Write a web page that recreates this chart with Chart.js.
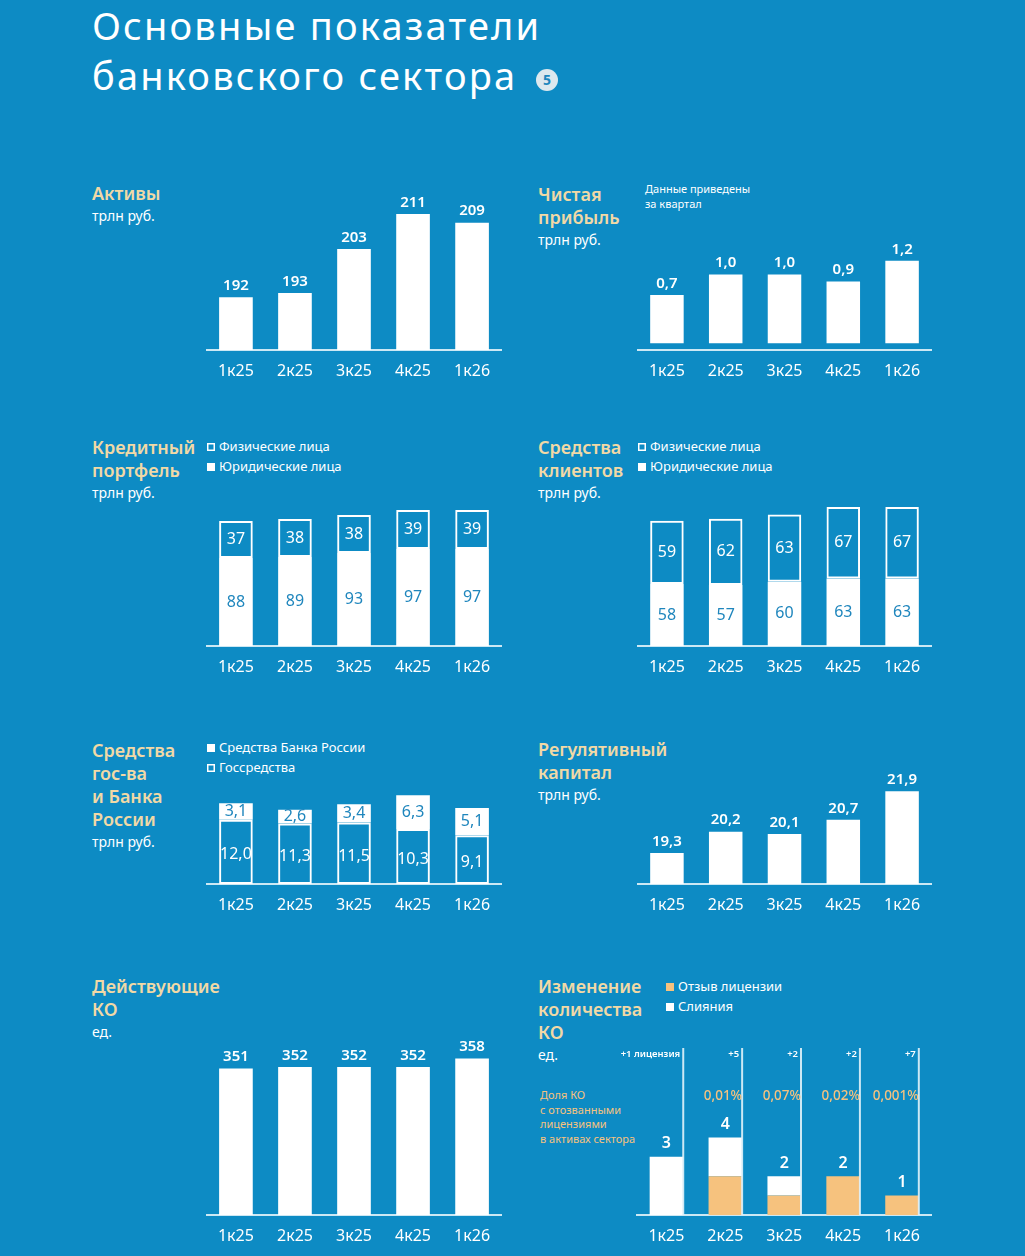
<!DOCTYPE html>
<html lang="ru">
<head>
<meta charset="utf-8">
<title>Основные показатели банковского сектора</title>
<script src="https://cdn.jsdelivr.net/npm/chart.js@4.4.1/dist/chart.umd.min.js"></script>
<style>
  body { margin: 0; width: 1025px; height: 1256px; overflow: hidden; background: #0d8bc4; font-family: "Noto Sans", sans-serif; color: #fff; position: relative; }
  .abs { position: absolute; }
  .main { left: 92px; top: 0; font-size: 38px; line-height: 50px; letter-spacing: 2.2px; }
  .badge { left: 536px; top: 69px; width: 22px; height: 22px; border-radius: 50%; background: #dde8ee; color: #1d86bd; font-size: 14px; font-weight: 700; line-height: 22px; text-align: center; }
  .ttl { font-size: 18px; line-height: 23px; font-weight: 600; color: #f1d9a6; white-space: nowrap; }
  .ttl .sub { display: block; font-size: 14px; line-height: 22px; font-weight: 400; color: #fff; }
  .leg { font-size: 13px; line-height: 19.5px; white-space: nowrap; }
  .sq { display: inline-block; width: 8px; height: 8px; margin-right: 4px; background: #fff; vertical-align: 0; }
  .sq.hollow { background: transparent; box-shadow: inset 0 0 0 1.5px #fff; }
  .sq.orange { background: #f6c27e; }
  .note { font-size: 11px; line-height: 14.5px; }
  .orange { color: #f6c27e; }
  canvas { position: absolute; }
</style>
</head>
<body>

<div class="abs main">Основные показатели<br>банковского сектора</div>
<div class="abs badge">5</div>

<div class="abs ttl" style="left:92px;top:182px">Активы<span class="sub">трлн руб.</span></div>
<div class="abs ttl" style="left:538px;top:183px">Чистая<br>прибыль<span class="sub">трлн руб.</span></div>
<div class="abs note" style="left:645px;top:182px">Данные приведены<br>за квартал</div>

<div class="abs ttl" style="left:92px;top:436px">Кредитный<br>портфель<span class="sub">трлн руб.</span></div>
<div class="abs leg" style="left:207px;top:437px"><span class="sq hollow"></span>Физические лица<br><span class="sq"></span>Юридические лица</div>

<div class="abs ttl" style="left:538px;top:436px">Средства<br>клиентов<span class="sub">трлн руб.</span></div>
<div class="abs leg" style="left:638px;top:437px"><span class="sq hollow"></span>Физические лица<br><span class="sq"></span>Юридические лица</div>

<div class="abs ttl" style="left:92px;top:739px">Средства<br>гос-ва<br>и Банка<br>России<span class="sub">трлн руб.</span></div>
<div class="abs leg" style="left:207px;top:738px"><span class="sq"></span>Средства Банка России<br><span class="sq hollow"></span>Госсредства</div>

<div class="abs ttl" style="left:538px;top:738px">Регулятивный<br>капитал<span class="sub">трлн руб.</span></div>

<div class="abs ttl" style="left:92px;top:975px">Действующие<br>КО<span class="sub">ед.</span></div>

<div class="abs ttl" style="left:538px;top:975px">Изменение<br>количества<br>КО<span class="sub">ед.</span></div>
<div class="abs leg" style="left:666px;top:977px"><span class="sq orange"></span>Отзыв лицензии<br><span class="sq"></span>Слияния</div>
<div class="abs note orange" style="left:540px;top:1088px">Доля КО<br>с отозванными<br>лицензиями<br>в активах сектора</div>

<canvas id="assets" width="296" height="206" style="left:206px;top:180px"></canvas>
<canvas id="profit" width="295" height="206" style="left:637px;top:180px"></canvas>
<canvas id="loans" width="296" height="196" style="left:206px;top:486px"></canvas>
<canvas id="funds" width="295" height="196" style="left:637px;top:486px"></canvas>
<canvas id="gov" width="296" height="146" style="left:206px;top:774px"></canvas>
<canvas id="capital" width="295" height="156" style="left:637px;top:764px"></canvas>
<canvas id="banks" width="296" height="211" style="left:206px;top:1040px"></canvas>
<canvas id="changes" width="315" height="211" style="left:617px;top:1040px"></canvas>

<script>
// Data
const quarters = ['1к25', '2к25', '3к25', '4к25', '1к26'];
const assets = [192, 193, 203, 211, 209];
const netProfit = [0.7, 1.0, 1.0, 0.9, 1.2];
const loansRetail = [37, 38, 38, 39, 39];
const loansCorporate = [88, 89, 93, 97, 97];
const fundsRetail = [59, 62, 63, 67, 67];
const fundsCorporate = [58, 57, 60, 63, 63];
const cbrFunds = [12.0, 11.3, 11.5, 10.3, 9.1];
const govFunds = [3.1, 2.6, 3.4, 6.3, 5.1];
const regCapital = [19.3, 20.2, 20.1, 20.7, 21.9];
const activeBanks = [351, 352, 352, 352, 358];
const revoked = [0, 2, 1, 2, 1];
const mergers = [3, 2, 1, 0, 0];
const licenseNotes = ['+1 лицензия', '+5', '+2', '+2', '+7'];
const revokedShare = ['', '0,01%', '0,07%', '0,02%', '0,001%'];

const FONT = '"Noto Sans", sans-serif';
const WHITE = '#ffffff';
const BLUE_TEXT = '#1f86bd';
const ORANGE = '#f6c27e';
const AXIS_H = 36;

function fmt(v, d) {
    return v.toFixed(d).replace('.', ',');
}

// Value labels on / above bars
const barLabels = {
    id: 'barLabels',
    afterDatasetsDraw(chart, args, opts) {
        const ctx = chart.ctx;
        ctx.save();
        ctx.textAlign = 'center';
        chart.data.datasets.forEach((ds, i) => {
            if (!ds.labelPos) return;
            chart.getDatasetMeta(i).data.forEach((bar, j) => {
                const v = ds.data[j];
                if (!v) return;
                ctx.fillStyle = ds.labelColor;
                ctx.font = ds.labelFont;
                if (ds.labelPos === 'top') {
                    ctx.textBaseline = 'bottom';
                    ctx.fillText(fmt(v, ds.decimals || 0), bar.x, bar.y - 4);
                } else {
                    ctx.textBaseline = 'middle';
                    ctx.fillText(fmt(v, ds.decimals || 0), bar.x, (bar.y + bar.base) / 2 + (ds.labelShift || 0));
                }
            });
        });
        if (opts.totals) {
            const y = chart.scales.y;
            ctx.fillStyle = WHITE;
            ctx.font = '600 16px ' + FONT;
            ctx.textBaseline = 'bottom';
            chart.getDatasetMeta(0).data.forEach((bar, j) => {
                const sum = chart.data.datasets.reduce((s, ds) => s + ds.data[j], 0);
                ctx.fillText(String(sum), bar.x, y.getPixelForValue(sum) - 5);
            });
        }
        ctx.restore();
    }
};

// Vertical separators with notes (license changes chart)
const licenseLines = {
    id: 'licenseLines',
    afterDatasetsDraw(chart, args, opts) {
        if (!opts.notes) return;
        const ctx = chart.ctx;
        const area = chart.chartArea;
        ctx.save();
        chart.getDatasetMeta(0).data.forEach((bar, j) => {
            const x = bar.x + bar.width / 2;
            ctx.strokeStyle = 'rgba(225,242,250,0.9)';
            ctx.lineWidth = 2;
            ctx.beginPath();
            ctx.moveTo(x, area.top + 8);
            ctx.lineTo(x, area.bottom);
            ctx.stroke();
            ctx.textAlign = 'right';
            ctx.textBaseline = 'middle';
            ctx.fillStyle = WHITE;
            ctx.font = '600 9.5px ' + FONT;
            ctx.fillText(opts.notes[j], x - 3, area.top + 14);
            ctx.fillStyle = ORANGE;
            ctx.font = '500 13.5px ' + FONT;
            ctx.fillText(opts.shares[j], x, area.top + 56);
        });
        ctx.restore();
    }
};

function barChart(id, datasets, min, pxPerUnit, pluginOpts, padLeft) {
    const canvas = document.getElementById(id);
    const plotH = canvas.height - AXIS_H;
    return new Chart(canvas, {
        type: 'bar',
        data: { labels: quarters, datasets: datasets },
        options: {
            responsive: false,
            animation: false,
            layout: { padding: { left: padLeft || 0, right: 0, top: 0, bottom: 0 } },
            datasets: { bar: { categoryPercentage: 1, barPercentage: 0.57, borderSkipped: false } },
            plugins: Object.assign({ legend: { display: false }, tooltip: { enabled: false } }, pluginOpts || {}),
            scales: {
                x: {
                    stacked: true,
                    grid: { display: false, drawTicks: false },
                    border: { color: 'rgba(225,242,250,0.9)', width: 2 },
                    ticks: { color: WHITE, font: { family: FONT, size: 16 }, padding: 12 },
                    afterFit: s => { s.height = AXIS_H; }
                },
                y: { stacked: true, display: false, min: min, max: min + plotH / pxPerUnit }
            }
        },
        plugins: [barLabels, licenseLines]
    });
}

function solid(data, decimals) {
    return { data: data, backgroundColor: WHITE, labelPos: 'top', labelColor: WHITE, labelFont: '600 15px ' + FONT, decimals: decimals };
}
function filledPart(data, decimals) {
    return { data: data, backgroundColor: WHITE, labelPos: 'mid', labelColor: BLUE_TEXT, labelFont: '16px ' + FONT, decimals: decimals };
}
function outlinedPart(data, decimals) {
    return { data: data, backgroundColor: 'rgba(0,0,0,0)', borderColor: WHITE, borderWidth: 2, labelPos: 'mid', labelColor: WHITE, labelFont: '16px ' + FONT, decimals: decimals };
}

barChart('assets', [solid(assets, 0)], 180, 4.39);
barChart('profit', [solid(netProfit, 1)], -0.1, 68.6);
barChart('loans', [filledPart(loansCorporate, 0), outlinedPart(loansRetail, 0)], 0, 1.0);
barChart('funds', [filledPart(fundsCorporate, 0), outlinedPart(fundsRetail, 0)], 0, 1.07);
barChart('gov', [Object.assign(outlinedPart(cbrFunds, 1), { labelShift: 3 }), filledPart(govFunds, 1)], 0, 5.35);
barChart('capital', [solid(regCapital, 1)], 18, 23.8);
barChart('banks', [solid(activeBanks, 0)], 250, 1.45);
barChart('changes', [
    { data: revoked, backgroundColor: ORANGE },
    { data: mergers, backgroundColor: WHITE }
], 0, 19.4, { barLabels: { totals: true }, licenseLines: { notes: licenseNotes, shares: revokedShare } }, 20);
</script>
</body>
</html>
